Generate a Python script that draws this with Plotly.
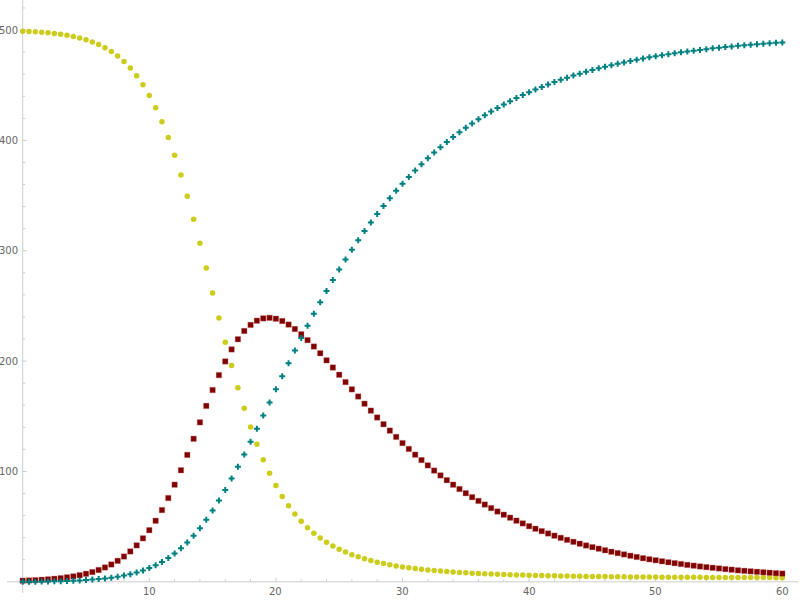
import plotly.graph_objects as go

# time samples (every 0.5 units from 0 to 60)
t_values = [i / 2 for i in range(121)]

susceptible = [
    499.0, 498.7, 498.4, 498.0, 497.5, 496.9, 496.1, 495.2, 494.1, 492.8,
    491.2, 489.2, 486.8, 484.0, 480.5, 476.4, 471.4, 465.5, 458.6, 450.4,
    440.8, 429.7, 417.0, 402.6, 386.5, 368.6, 349.3, 328.6, 306.8, 284.4,
    261.7, 239.1, 217.1, 195.9, 175.9, 157.3, 140.2, 124.7, 110.7, 98.3,
    87.2, 77.4, 68.9, 61.4, 54.8, 49.0, 44.0, 39.6, 35.8, 32.4,
    29.5, 26.9, 24.6, 22.6, 20.8, 19.2, 17.8, 16.6, 15.4, 14.4,
    13.5, 12.7, 12.0, 11.3, 10.7, 10.2, 9.7, 9.3, 8.9, 8.5,
    8.1, 7.8, 7.5, 7.3, 7.0, 6.8, 6.6, 6.4, 6.2, 6.1,
    5.9, 5.76, 5.63, 5.50, 5.39, 5.28, 5.18, 5.08, 4.99, 4.91,
    4.83, 4.76, 4.69, 4.62, 4.56, 4.51, 4.45, 4.40, 4.35, 4.31,
    4.26, 4.22, 4.19, 4.15, 4.12, 4.08, 4.05, 4.02, 4.00, 3.97,
    3.95, 3.92, 3.90, 3.88, 3.86, 3.84, 3.82, 3.81, 3.79, 3.78,
    3.76,
]

infected = [
    1.0, 1.22, 1.49, 1.82, 2.22, 2.71, 3.30, 4.02, 4.90, 5.96,
    7.25, 8.82, 10.7, 13.0, 15.7, 19.0, 22.9, 27.5, 33.0, 39.4,
    46.8, 55.3, 65.0, 75.9, 88.0, 101.1, 115.0, 129.6, 144.5, 159.4,
    173.8, 187.3, 199.7, 210.6, 219.8, 227.3, 232.8, 236.6, 238.7, 239.2,
    238.4, 236.3, 233.1, 229.1, 224.3, 219.0, 213.2, 207.1, 200.7, 194.2,
    187.6, 181.0, 174.4, 167.9, 161.4, 155.1, 148.9, 142.8, 137.0, 131.3,
    125.7, 120.4, 115.2, 110.3, 105.5, 100.8, 96.4, 92.1, 88.0, 84.1,
    80.3, 76.7, 73.3, 70.0, 66.8, 63.7, 60.8, 58.1, 55.4, 52.9,
    50.4, 48.1, 45.9, 43.8, 41.8, 39.8, 38.0, 36.2, 34.5, 32.9,
    31.4, 30.0, 28.6, 27.2, 26.0, 24.8, 23.6, 22.5, 21.4, 20.4,
    19.5, 18.6, 17.7, 16.9, 16.1, 15.3, 14.6, 13.9, 13.3, 12.7,
    12.1, 11.5, 11.0, 10.4, 9.96, 9.49, 9.04, 8.62, 8.21, 7.83,
    7.46,
]

recovered = [
    0.0, 0.06, 0.12, 0.21, 0.31, 0.43, 0.58, 0.76, 0.98, 1.25,
    1.58, 1.98, 2.47, 3.06, 3.77, 4.64, 5.68, 6.94, 8.45, 10.3,
    12.4, 14.9, 18.0, 21.5, 25.6, 30.3, 35.7, 41.8, 48.6, 56.2,
    64.5, 73.6, 83.2, 93.5, 104.3, 115.4, 126.9, 138.7, 150.6, 162.5,
    174.4, 186.3, 198.0, 209.6, 220.9, 232.0, 242.8, 253.3, 263.5, 273.4,
    282.9, 292.1, 301.0, 309.6, 317.8, 325.7, 333.3, 340.6, 347.6, 354.3,
    360.7, 366.9, 372.8, 378.4, 383.8, 389.0, 393.9, 398.6, 403.1, 407.4,
    411.5, 415.4, 419.2, 422.8, 426.2, 429.4, 432.6, 435.5, 438.4, 441.1,
    443.7, 446.1, 448.5, 450.7, 452.9, 454.9, 456.8, 458.7, 460.5, 462.1,
    463.8, 465.3, 466.8, 468.1, 469.5, 470.7, 472.0, 473.1, 474.2, 475.3,
    476.2, 477.2, 478.1, 479.0, 479.8, 480.6, 481.3, 482.0, 482.7, 483.4,
    484.0, 484.6, 485.1, 485.7, 486.2, 486.7, 487.1, 487.6, 488.0, 488.4,
    488.8,
]

x_tick_values = [10, 20, 30, 40, 50, 60]
x_tick_labels = ["10", "20", "30", "40", "50", "60"]
x_minor_ticks = [2, 4, 6, 8, 12, 14, 16, 18, 22, 24, 26, 28, 32, 34, 36, 38,
                 42, 44, 46, 48, 52, 54, 56, 58]
y_tick_values = [100, 200, 300, 400, 500]
y_tick_labels = ["100", "200", "300", "400", "500"]
y_minor_ticks = [20, 40, 60, 80, 120, 140, 160, 180, 220, 240, 260, 280,
                 320, 340, 360, 380, 420, 440, 460, 480, 520]

# axis geometry (pixels: x0 at 22.7 px, 12.66 px per unit; y0 at 581.8 px, 1.1035 px per unit)
X_RANGE = [-22.7 / 12.66, (800 - 22.7) / 12.66]
Y_RANGE = [(581.8 - 600) / 1.1035, 581.8 / 1.1035]
PX_X = 1 / 12.66   # data units per pixel, x
PX_Y = 1 / 1.1035  # data units per pixel, y

fig = go.Figure()
fig.add_trace(go.Scatter(
    x=t_values, y=susceptible, mode="markers",
    marker=dict(symbol="circle", size=5.5, color="#cccc1a", line=dict(width=0)),
))
fig.add_trace(go.Scatter(
    x=t_values, y=infected, mode="markers",
    marker=dict(symbol="square", size=5.5, color="#800000",
                line=dict(width=0.6, color="rgba(200,120,120,0.6)")),
))
fig.add_trace(go.Scatter(
    x=t_values, y=recovered, mode="markers",
    marker=dict(symbol="cross", size=5, color="#008080", line=dict(width=0)),
))

axis_color = "#cdcdcd"
line_style = dict(color=axis_color, width=1)
shapes = [
    # y axis line
    dict(type="line", xref="x", yref="y", x0=0, x1=0, y0=-11.2 * PX_Y, y1=Y_RANGE[1] + 5,
         line=line_style, layer="below"),
    # x axis line
    dict(type="line", xref="x", yref="y", x0=-15.7 * PX_X, x1=(798 - 22.7) * PX_X, y0=0, y1=0,
         line=line_style, layer="below"),
]
for v in x_tick_values:
    shapes.append(dict(type="line", xref="x", yref="y", x0=v, x1=v, y0=0, y1=4 * PX_Y,
                       line=line_style, layer="below"))
for v in x_minor_ticks:
    shapes.append(dict(type="line", xref="x", yref="y", x0=v, x1=v, y0=0, y1=2.5 * PX_Y,
                       line=line_style, layer="below"))
for v in y_tick_values:
    shapes.append(dict(type="line", xref="x", yref="y", x0=0, x1=4 * PX_X, y0=v, y1=v,
                       line=line_style, layer="below"))
for v in y_minor_ticks:
    shapes.append(dict(type="line", xref="x", yref="y", x0=0, x1=2.5 * PX_X, y0=v, y1=v,
                       line=line_style, layer="below"))

tick_font = dict(family="DejaVu Sans", size=10, color="#666666")
annotations = []
for v, lab in zip(x_tick_values, x_tick_labels):
    annotations.append(dict(x=v, y=0, xref="x", yref="y", text=lab, showarrow=False,
                            xanchor="center", yanchor="middle", yshift=-9.5,
                            font=tick_font, borderpad=0))
for v, lab in zip(y_tick_values, y_tick_labels):
    annotations.append(dict(x=0, y=v, xref="x", yref="y", text=lab, showarrow=False,
                            xanchor="right", yanchor="middle", xshift=-3.5,
                            font=tick_font, borderpad=0))

fig.update_layout(
    width=800, height=600,
    margin=dict(l=0, r=0, t=0, b=0),
    paper_bgcolor="white", plot_bgcolor="white",
    showlegend=False,
    hovermode=False,
    xaxis=dict(domain=[0, 1], range=X_RANGE, visible=False, showgrid=False,
               zeroline=False, fixedrange=True),
    yaxis=dict(domain=[0, 1], range=Y_RANGE, visible=False, showgrid=False,
               zeroline=False, fixedrange=True),
    shapes=shapes,
    annotations=annotations,
)

fig.write_html(
    "out.html",
    config={"displayModeBar": False, "staticPlot": True},
    post_script="document.body.style.margin='0';document.body.style.padding='0';"
                "document.body.style.overflow='hidden';",
)
